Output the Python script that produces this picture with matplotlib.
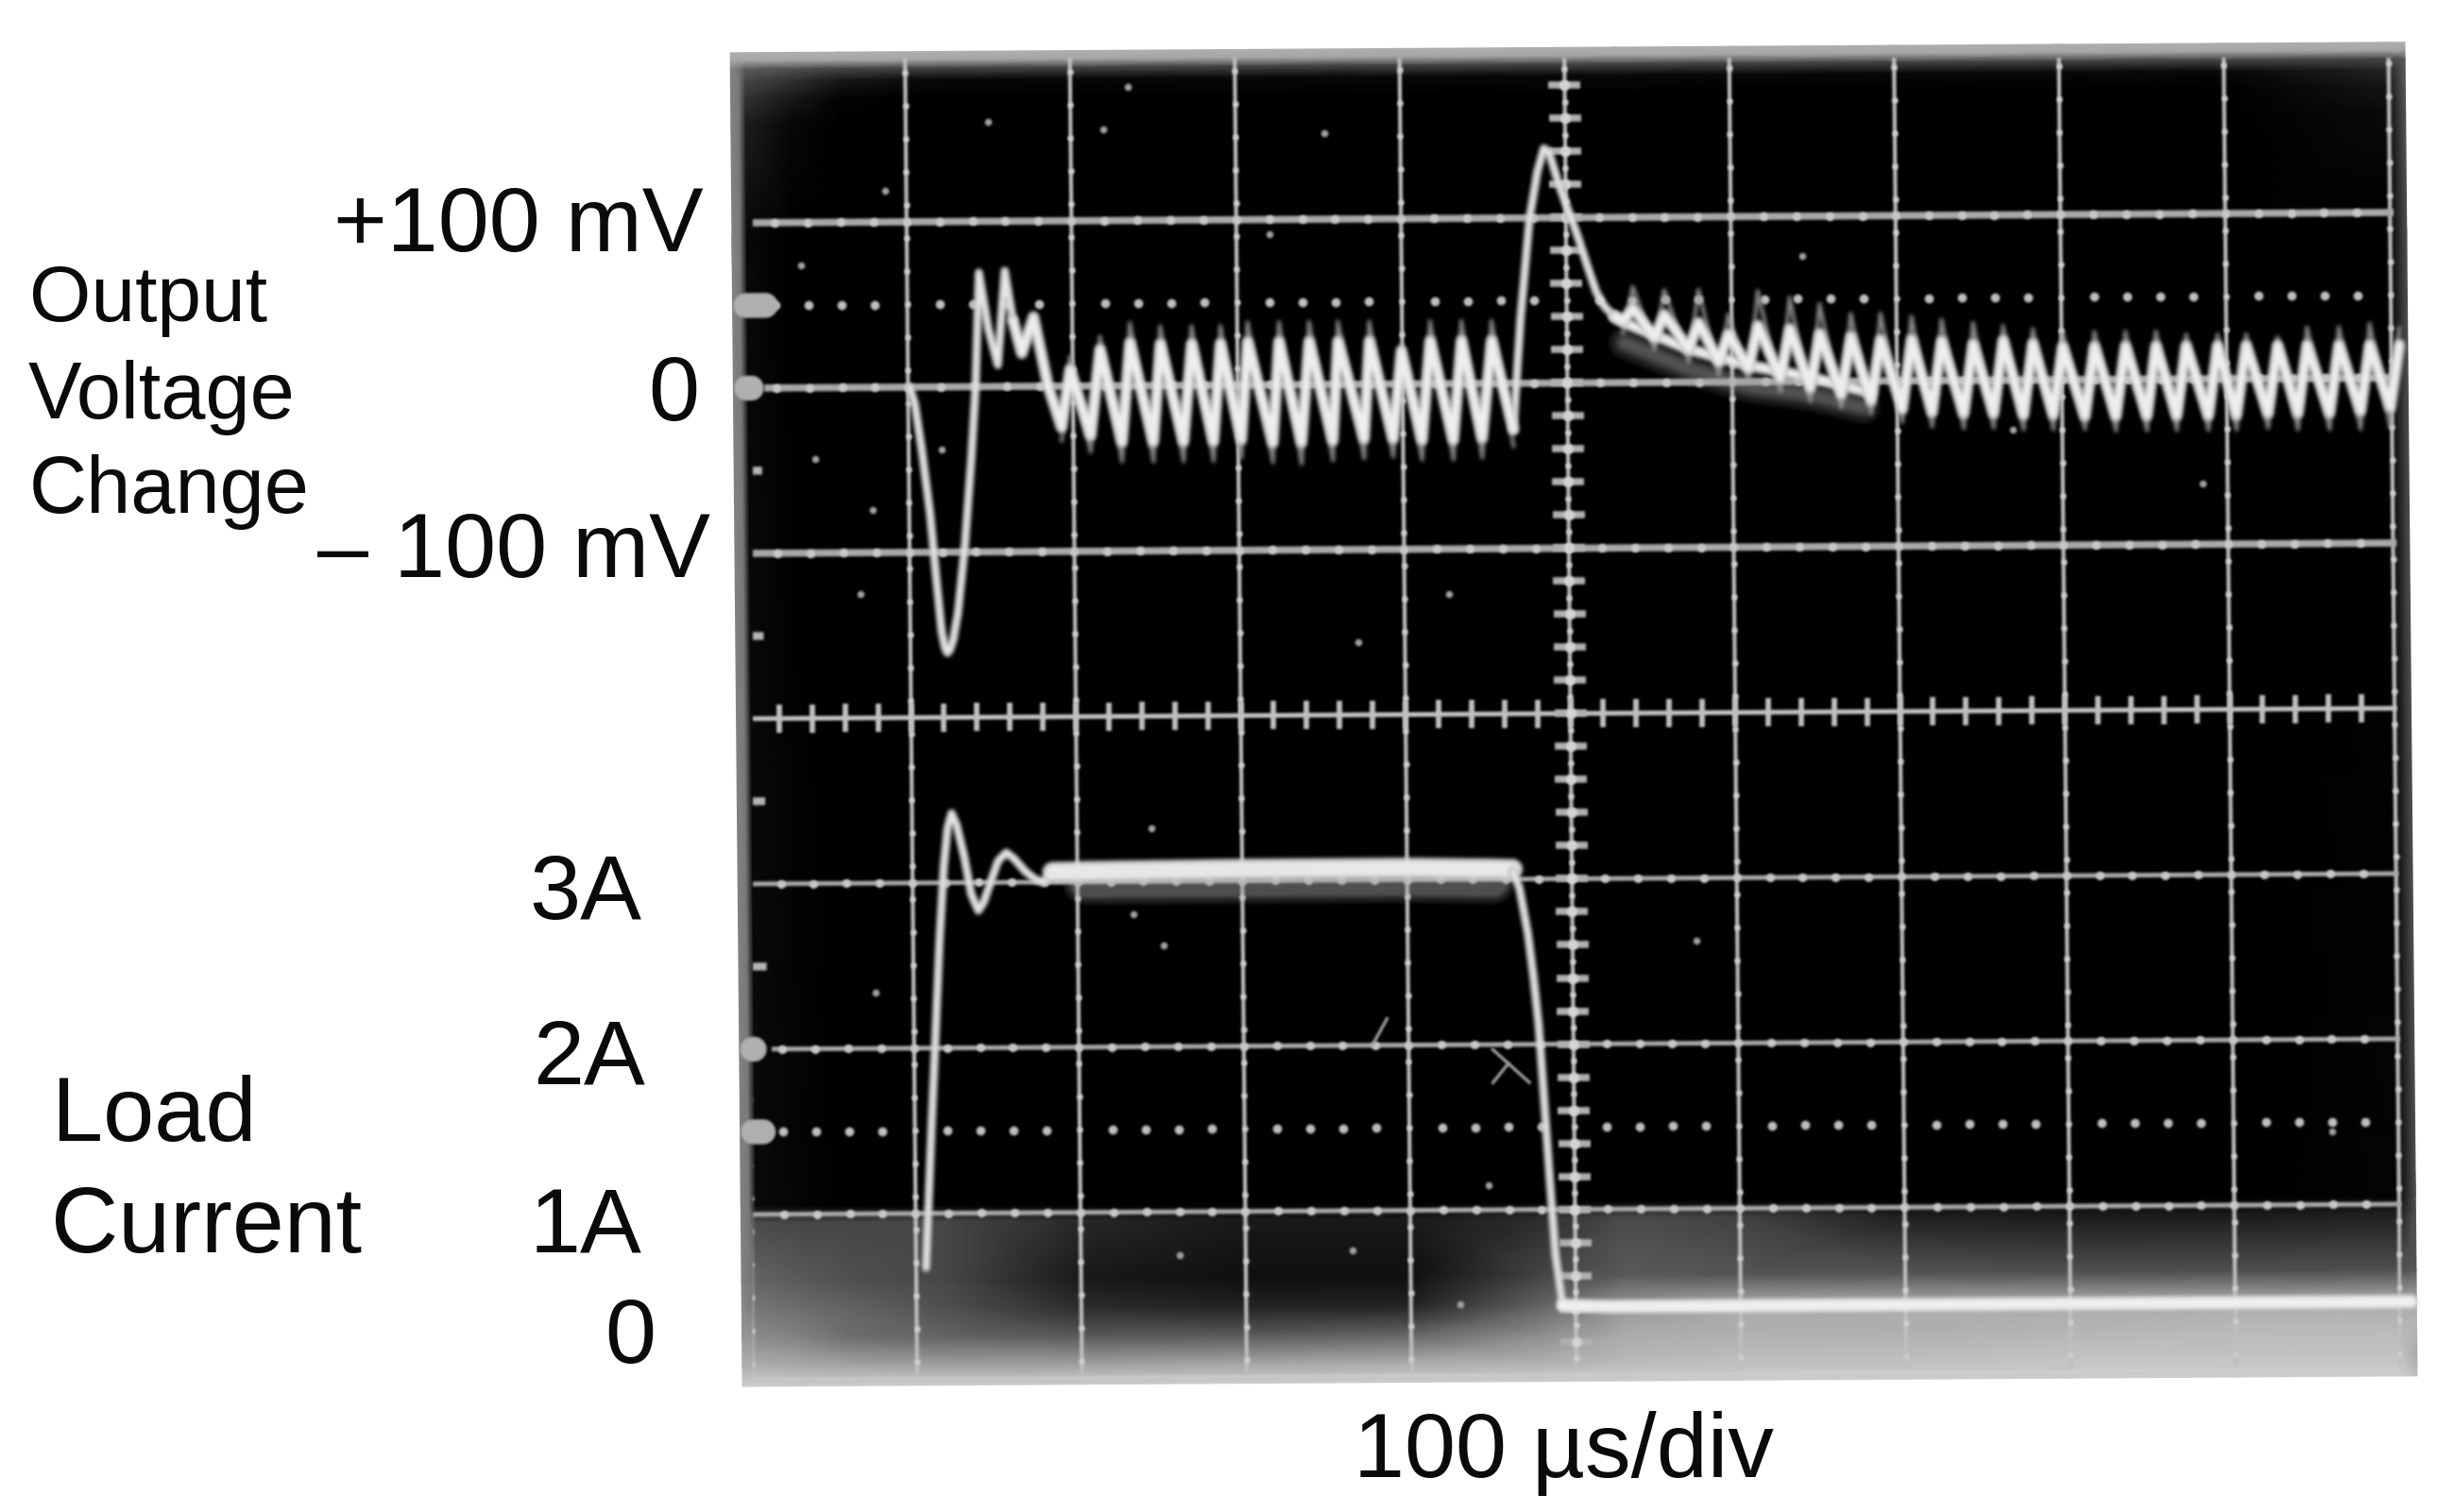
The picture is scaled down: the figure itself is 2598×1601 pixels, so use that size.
#!/usr/bin/env python3
"""Oscilloscope photo of a load transient: output voltage change and load current."""

from functools import partial

import numpy as np
import matplotlib.pyplot as plt
from matplotlib.transforms import Affine2D

# voltage trace, times in us (100 us/div), values in mV (100 mV/div, 0 at division 6)
t_dip = [101, 104, 108, 112.6, 116, 119, 121, 122.4, 124, 126, 129, 133.8, 138, 141, 143.6, 149, 154.6, 159.3, 164]
mv_dip = [0, -10, -38, -76, -115, -148, -158, -161, -159, -153, -137, -94, -43, 0, 69, 35, 13, 70, 40]
t_settle = [169.2, 176.5, 185]
mv_settle = [20, 42, 0]

t_left_trough = [192.9, 210.5, 229.5, 248.5, 266.8, 285, 301.9, 321, 338.4, 357.4, 376.4, 394, 411.5, 430.5, 448, 467]
mv_left_trough = [-25, -30, -34, -34, -34, -34, -33, -35, -35, -34, -33, -33, -34, -34, -33, -28]
mv_left_trough_tail = [-33, -40, -46, -46, -46, -46, -44, -47, -48, -46, -45, -44, -46, -46, -45, -38]
t_left_peak = [198.4, 216.7, 234.9, 253.3, 272.3, 289.8, 306.3, 325.3, 343.6, 361.1, 380.1, 399.5, 417, 436, 454.3]
mv_left_peak = [10, 22, 26, 25, 25, 25, 26, 26, 26, 26, 26, 20, 26, 26, 26]
mv_left_peak_tail = [18, 30, 38, 36, 36, 36, 38, 38, 38, 38, 38, 24, 38, 38, 38]

t_spike = [467, 472, 478, 483, 487, 490, 496, 502, 507, 513, 518, 523, 529]
mv_spike = [-28, 40, 100, 128, 142, 140, 120, 103, 89, 70, 55, 46, 40]

t_right_trough = [534, 553.2, 573.8, 592, 610, 629.2, 647.3, 666.1, 684.2, 703, 721.1, 740.3, 758.4,
                  776.5, 794.6, 813.8, 832.6, 851.4, 869.5, 888.7, 905.7, 924.9, 943, 962.2, 981, 999]
mv_right_trough = [37, 27, 20, 12, 8, 2, -4, -8, -12, -17, -19, -20, -20,
                   -21, -21, -22, -22, -22, -22, -22, -22, -21, -21, -21, -20, -18]
mv_right_trough_tail = [30, 20, 12, 4, 0, -6, -12, -16, -20, -25, -28, -29, -29,
                        -30, -30, -30, -31, -31, -31, -31, -31, -30, -31, -31, -31, -30]
t_right_peak = [540.2, 559.2, 580, 598, 616, 635.3, 653.4, 672.3, 690.3, 709.1, 727.3, 746.4, 764.6,
                782.6, 800.7, 820, 838.8, 857.3, 875.6, 894.7, 912, 931.1, 949, 968.3, 987, 1005]
mv_right_peak = [45, 41, 36, 29, 34, 32, 29, 27, 25, 25, 24, 22, 24,
                 22, 20, 20, 20, 20, 20, 20, 20, 20, 20, 20, 20, 20]
mv_right_peak_tail = [58, 56, 56, 41, 55, 51, 47, 41, 41, 39, 37, 35, 33,
                      31, 29, 29, 29, 29, 27, 27, 27, 25, 31, 31, 33, 30]
t_curve = [529, 538, 574, 610, 647, 684]
mv_curve = [40, 35, 20, 10, 2.6, -7]
t_smear = [535, 574, 610, 647, 680]
mv_smear = [24, 8, -3, -8, -16]

# load current trace, times in us, values read on the graticule (1 A/div)
t_rise = [106, 110, 113.4, 116, 119, 121.5, 124, 127, 131.6, 135.5, 139.7, 143, 148, 152, 157, 162, 168, 174, 179, 185, 190]
amp_rise = [0.67, 1.5, 2.14, 2.65, 3.1, 3.33, 3.42, 3.35, 3.15, 2.93, 2.83, 2.88, 3.02, 3.13, 3.18, 3.14, 3.07, 3.02, 3.0, 3.05, 3.07]
t_plateau = [185, 300, 400, 464]
amp_plateau = [3.06, 3.07, 3.07, 3.06]
t_haze = [205, 300, 400, 452]
amp_haze = [3.0, 3.0, 3.0, 2.99]
t_fall = [464, 468, 473, 476, 479, 482, 485, 488, 492]
amp_fall = [3.05, 2.95, 2.67, 2.42, 2.12, 1.65, 1.16, 0.72, 0.42]
t_zero = [492, 520, 700, 1007]
amp_zero = [0.42, 0.41, 0.41, 0.41]

# screen brightness, rows top to bottom
glow_u = [-0.06, -0.01, 0.03, 0.3, 0.6, 1.2, 2, 3, 4, 4.8, 5.3, 6, 7, 8, 9, 10, 10.1]
glow_v = [8.03, 7.98, 7.93, 7.86, 7.75, 7.6, 6.9, 1.05, 0.95, 0.6, 0.42, 0.25, 0.08, -0.04]
glow_levels = [
    [175, 175, 175, 175, 175, 175, 175, 175, 175, 175, 175, 175, 175, 175, 175, 175, 175],
    [165, 165, 165, 165, 165, 165, 165, 165, 165, 165, 165, 165, 165, 165, 165, 165, 165],
    [130, 120, 90, 80, 70, 70, 70, 70, 70, 70, 70, 70, 70, 70, 70, 70, 90],
    [130, 120, 70, 50, 25, 8, 8, 8, 8, 8, 8, 8, 8, 8, 8, 35, 90],
    [130, 120, 50, 25, 3, 0, 0, 0, 0, 0, 0, 0, 0, 0, 0, 20, 90],
    [130, 120, 30, 8, 0, 0, 0, 0, 0, 0, 0, 0, 0, 0, 0, 10, 85],
    [130, 120, 8, 0, 0, 0, 0, 0, 0, 0, 0, 0, 0, 0, 0, 0, 80],
    [130, 120, 10, 5, 0, 0, 0, 0, 0, 0, 0, 0, 0, 0, 0, 5, 80],
    [130, 120, 75, 70, 70, 70, 40, 25, 25, 45, 75, 65, 30, 25, 25, 30, 80],
    [130, 120, 100, 90, 80, 70, 25, 15, 15, 70, 90, 85, 85, 80, 80, 80, 90],
    [140, 130, 120, 110, 100, 80, 45, 35, 35, 100, 150, 170, 170, 170, 170, 170, 170],
    [150, 150, 140, 130, 110, 100, 90, 90, 100, 140, 170, 175, 175, 180, 185, 185, 180],
    [175, 175, 175, 170, 165, 160, 160, 165, 170, 175, 185, 190, 190, 195, 195, 195, 170],
    [205, 205, 205, 205, 205, 205, 205, 205, 205, 205, 205, 205, 205, 205, 205, 205, 190],
]

# dust and scratches on the photo, in divisions
speck_u = [0.36, 2.2, 0.87, 0.43, 0.78, 0.7, 1.2, 3.72, 4.27, 3.2, 1.5, 2.35, 3.54, 2.45, 2.34, 2.52,
           4.48, 2.6, 3.65, 4.3, 0.77, 6.43, 8.85, 7.7, 5.75, 9.6]
speck_v = [6.74, 7.55, 7.19, 5.57, 5.26, 4.75, 5.62, 4.44, 4.73, 6.91, 7.6, 7.81, 7.52, 3.32, 2.8, 2.61,
           1.15, 0.74, 0.76, 0.43, 2.34, 6.76, 5.37, 5.7, 2.62, 1.44]
scratch_u = [[3.78, 3.87], [4.51, 4.73], [4.51, 4.6]]
scratch_v = [[2.0, 2.16], [1.97, 1.77], [1.77, 1.88]]

stub_v = [5.5, 4.5, 3.5, 2.5]
blob_v = [6.5, 6.0, 2.0, 1.5]
blob_end_u = [0.14, 0.05, 0.03, 0.08]

# (text, x px, baseline px, anchor, size)
labels = [
    ("+100 mV", 745, 266, "right", 70),
    ("0", 740, 445, "right", 70),
    ("\u2013 100 mV", 752, 611, "right", 70),
    ("Output", 31, 340, "left", 60.5),
    ("Voltage", 30, 443, "left", 61),
    ("Change", 31, 543, "left", 61),
    ("3A", 679, 973, "right", 70),
    ("2A", 683, 1147, "right", 70),
    ("1A", 679, 1326, "right", 70),
    ("0", 694, 1443, "right", 70),
    ("Load", 55, 1208, "left", 70),
    ("Current", 54, 1326, "left", 71),
    ("100 \u00b5s/div", 1655, 1564, "center", 70),
]

WIDTH, HEIGHT = 2598, 1601


def mv_to_div(mv):
    return 6 + np.asarray(mv, dtype=float) / 100


def zigzag(t_low, low, t_high, high):
    """Merge troughs and peaks into one trace in time order."""
    t = np.concatenate([t_low, t_high])
    y = np.concatenate([low, high])
    order = np.argsort(t)
    return t[order], y[order]


def box_pass(arr, radius, axis):
    size = 2 * radius + 1
    summed = np.cumsum(arr, axis=axis)
    n = arr.shape[axis]
    front = np.take(summed, range(size - 1, n), axis=axis)
    back = np.take(summed, range(0, n - size + 1), axis=axis)
    window = front.copy()
    if axis == 0:
        window[1:] -= back[:-1]
    else:
        window[:, 1:] -= back[:, :-1]
    out = np.zeros_like(arr)
    slices = [slice(None)] * arr.ndim
    slices[axis] = slice(radius, radius + window.shape[axis])
    out[tuple(slices)] = window
    return out / size


def photo_blur(rgba, dpi, radius=1):
    """Soft focus of the photographed screen, used as an agg filter."""
    pad = 3 * radius + 2
    arr = np.pad(rgba, ((pad, pad), (pad, pad), (0, 0))).astype(float)
    arr[..., :3] *= arr[..., 3:]
    for _ in range(2):
        arr = box_pass(arr, radius, 0)
        arr = box_pass(arr, radius, 1)
    alpha = np.clip(arr[..., 3:], 1e-4, 1)
    arr[..., :3] = np.clip(arr[..., :3] / alpha, 0, 1)
    return arr, -pad, -pad


def draw_trace(ax, tr, u, v, widths, colors, alphas):
    for lw, col, alpha in zip(widths, colors, alphas):
        ax.plot(u, v, color=col, lw=lw, alpha=alpha, transform=tr, solid_joinstyle="round",
                solid_capstyle="round", clip_on=False)


def draw_graticule(ax, tr):
    grid_col = "#c0c0c0"
    for u in range(0, 11):
        ax.plot([u, u], [0.03, 7.98], color=grid_col, lw=3.0, transform=tr)
        ax.plot(np.full(40, u), np.arange(0.1, 8, 0.2), ls="none", marker="o", ms=4.5,
                color="#d0d0d0", mec="none", transform=tr)
    for v in [1, 2, 3, 5, 6, 7]:
        start = 0.15 if v in (2, 6) else 0.02
        thick = 5.5 if v >= 5 else 3.6
        ax.plot([start, 10], [v, v], color="#a8a8a8", lw=thick, transform=tr)
        beads = np.arange(0.2, 10, 0.2)
        beads = beads[beads > start]
        ax.plot(beads, np.full(len(beads), v), ls="none", marker="o", ms=6.5,
                color="#c8c8c8", mec="none", transform=tr)
    ax.plot([0, 10], [0, 0], color="#d0d0d0", lw=2.5, alpha=0.7, transform=tr)

    # centre cross with its 0.2 div ticks
    ticks = np.arange(0, 10.01, 0.2)
    ax.plot([0.02, 10], [4, 4], color="#c4c4c4", lw=3.6, transform=tr)
    ax.plot(ticks[1:-1], np.full(len(ticks) - 2, 4), ls="none", marker="|", ms=21, mew=4.2,
            color="#c0c0c0", transform=tr)
    ticks = np.arange(0.2, 8, 0.2)
    ax.plot(np.full(len(ticks), 5), ticks, ls="none", marker="_", ms=24, mew=5.5,
            color="#b0b0b0", transform=tr)
    ax.plot(np.full(len(ticks), 5), ticks, ls="none", marker="o", ms=8,
            color="#d4d4d4", mec="none", transform=tr)

    # dotted trigger rows
    for v in [6.5, 1.5]:
        dots = np.array([d / 5 for d in range(1, 50) if d % 5 != 0])
        ax.plot(dots, np.full(len(dots), v), ls="none", marker="o", ms=7,
                color="#c0c0c0", mec="none", transform=tr)

    for v in stub_v:
        ax.plot([0.0, 0.11], [v, v], color="#b4b4b4", lw=6, transform=tr, solid_capstyle="butt")
    for v, end in zip(blob_v, blob_end_u):
        ax.plot([0.02, end], [v, v], color="#b0b0b0", lw=19, transform=tr,
                solid_capstyle="round", clip_on=False)


def main():
    fig = plt.figure(figsize=(WIDTH / 100, HEIGHT / 100), dpi=100, facecolor="white")
    ax = fig.add_axes([796.5 / WIDTH, 140 / HEIGHT, 1745 / WIDTH, 1400 / HEIGHT])
    ax.set_xlim(0, 10)
    ax.set_ylim(0, 8)
    ax.axis("off")

    # the photo sits slightly crooked
    tr = Affine2D.from_values(1, 1.1 / 175, -1.61 / 174.5, 1, 0, 0) + ax.transData

    ax.pcolormesh(glow_u, glow_v, np.array(glow_levels, dtype=float), shading="gouraud",
                  cmap="gray", vmin=0, vmax=255, transform=tr, clip_on=False, zorder=0)

    draw_graticule(ax, tr)

    ax.plot(speck_u, speck_v, ls="none", marker="o", ms=5.5, color="#a0a0a0", mec="none", transform=tr)
    for u, v in zip(scratch_u, scratch_v):
        ax.plot(u, v, color="#a0a0a0", lw=2.4, transform=tr)
    n_static = len(ax.lines)

    # voltage trace
    t_left, mv_left = zigzag(t_left_trough, mv_left_trough, t_left_peak, mv_left_peak)
    t_tail, mv_tail = zigzag(t_left_trough, mv_left_trough_tail, t_left_peak, mv_left_peak_tail)
    t_right, mv_right = zigzag(t_right_trough, mv_right_trough, t_right_peak, mv_right_peak)
    t_rtail, mv_rtail = zigzag(t_right_trough, mv_right_trough_tail, t_right_peak, mv_right_peak_tail)

    for lw, alpha in [(24, 0.16), (15, 0.22), (8, 0.25)]:
        ax.plot(np.array(t_smear) / 100, mv_to_div(mv_smear), color="#a4a4a4", lw=lw, alpha=alpha,
                transform=tr, solid_capstyle="round")
    ax.plot(t_tail / 100, mv_to_div(mv_tail), color="#a0a0a0", lw=2.8, alpha=0.85, transform=tr)
    ax.plot(t_rtail / 100, mv_to_div(mv_rtail), color="#a0a0a0", lw=2.8, alpha=0.85, transform=tr)

    # thin sweep through the dip and the spike, heavier strokes on the repeating ripple
    thin = ([6.5, 4.2], ["#a8a8a8", "#e8e8e8"], [0.75, 1.0])
    heavy = ([9, 6], ["#b4b4b4", "#eeeeee"], [0.8, 1.0])
    draw_trace(ax, tr, np.array(t_dip) / 100, mv_to_div(mv_dip), *thin)
    draw_trace(ax, tr, np.array(t_spike) / 100, mv_to_div(mv_spike), *thin)
    u_settle = np.concatenate([t_dip[-1:], t_settle, t_left]) / 100
    mv_ripple = np.concatenate([mv_dip[-1:], mv_settle, mv_left])
    draw_trace(ax, tr, u_settle, mv_to_div(mv_ripple), *heavy)
    draw_trace(ax, tr, np.array(t_curve) / 100, mv_to_div(mv_curve), *heavy)
    u_right = np.concatenate([t_spike[-1:], t_right]) / 100
    mv_ripple = np.concatenate([mv_spike[-1:], mv_right])
    draw_trace(ax, tr, u_right, mv_to_div(mv_ripple), *heavy)

    # load current trace
    for lw, alpha in [(34, 0.2), (25, 0.35)]:
        ax.plot(np.array(t_haze) / 100, amp_haze, color="#a8a8a8", lw=lw, alpha=alpha, transform=tr,
                solid_capstyle="round")
    draw_trace(ax, tr, np.array(t_rise) / 100, amp_rise, *thin)
    draw_trace(ax, tr, np.array(t_plateau) / 100, amp_plateau, [16, 12], ["#c8c8c8", "#e8e8e8"], [0.85, 1.0])
    draw_trace(ax, tr, np.array(t_fall) / 100, amp_fall, *thin)
    draw_trace(ax, tr, np.array(t_zero) / 100, amp_zero, [10, 7.5], ["#d8d8d8", "#f0f0f0"], [0.85, 1.0])

    # everything on the screen except the glow is slightly out of focus
    for line in ax.lines[:n_static]:
        line.set_agg_filter(photo_blur)
    for line in ax.lines[n_static:]:
        line.set_agg_filter(partial(photo_blur, radius=2))

    for text, x, y, ha, size in labels:
        fig.text(x / WIDTH, 1 - y / HEIGHT, text, ha=ha, va="baseline", fontsize=size,
                 family="Liberation Sans", color="#0a0a0a")

    fig.savefig("out.png", dpi=100, facecolor="white")
    plt.close(fig)


if __name__ == "__main__":
    main()
